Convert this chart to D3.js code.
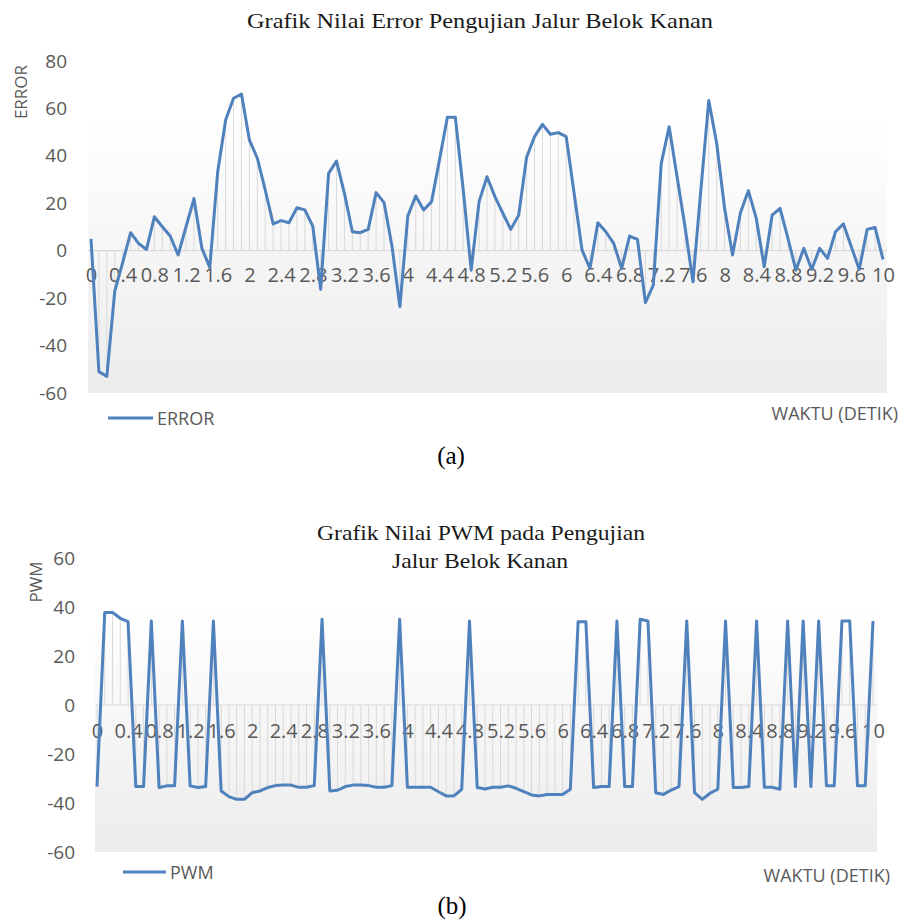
<!DOCTYPE html>
<html>
<head>
<meta charset="utf-8">
<script src="https://cdn.jsdelivr.net/npm/d3@7"></script>
<style>
  html, body { margin: 0; padding: 0; background: #fff; }
  svg { display: block; }
</style>
</head>
<body>
<svg id="chart" width="900" height="923"></svg>
<script>
// ---------- DATA ----------
const categories = [0,0.1,0.2,0.3,0.4,0.5,0.6,0.7,0.8,0.9,1,1.1,1.2,1.3,1.4,1.5,1.6,1.7,1.8,1.9,2,2.1,2.2,2.3,2.4,2.5,2.6,2.7,2.8,2.9,3,3.1,3.2,3.3,3.4,3.5,3.6,3.7,3.8,3.9,4,4.1,4.2,4.3,4.4,4.5,4.6,4.7,4.8,4.9,5,5.1,5.2,5.3,5.4,5.5,5.6,5.7,5.8,5.9,6,6.1,6.2,6.3,6.4,6.5,6.6,6.7,6.8,6.9,7,7.1,7.2,7.3,7.4,7.5,7.6,7.7,7.8,7.9,8,8.1,8.2,8.3,8.4,8.5,8.6,8.7,8.8,8.9,9,9.1,9.2,9.3,9.4,9.5,9.6,9.7,9.8,9.9,10];

const tickLabels = ["0","0.4","0.8","1.2","1.6","2","2.4","2.8","3.2","3.6","4","4.4","4.8","5.2","5.6","6","6.4","6.8","7.2","7.6","8","8.4","8.8","9.2","9.6","10"];

const errorValues = [5,-51,-53,-17,-5,7.6,3.1,0.5,14.3,10.1,6.2,-1.8,10.1,22,1,-7,33.3,55.1,64.3,66.1,46.7,39,25.6,11.3,12.7,11.8,18.1,17.2,10.4,-16.3,32.6,37.8,24.2,8,7.6,9,24.5,20.3,2,-23.6,14.6,23.1,17.2,20.7,38.3,56.3,56.3,25.6,-8.2,20.7,31.2,22.8,15.8,9,15,39.4,48.1,53.3,49.1,49.8,48.1,24.2,0.3,-7.5,11.8,8,3.1,-7.5,6.2,4.8,-21.9,-14.5,36.8,52.3,31.2,10.1,-13.1,25.6,63.3,45.3,17.9,-1.8,16,25.3,13.6,-6.8,15,17.9,5.2,-8.2,1,-7.9,1,-3.2,8,11.3,1.7,-7.9,9,9.8,-3.7];

const pwmValues = [-33.3,37.8,37.8,35.4,34,-33.3,-33.3,34.3,-33.7,-33,-33,34.3,-33,-33.7,-33.3,34.3,-35.1,-37.4,-38.5,-38.5,-35.8,-35.1,-33.7,-32.9,-32.7,-32.7,-33.6,-33.6,-32.9,35,-35.1,-34.8,-33.3,-32.7,-32.7,-32.9,-33.6,-33.6,-32.9,35,-33.6,-33.6,-33.6,-33.6,-35.4,-37.1,-37.1,-34.4,34.3,-33.7,-34.3,-33.6,-33.6,-33,-34,-35.4,-36.7,-37.1,-36.5,-36.5,-36.5,-34.4,34,34,-33.7,-33.3,-33.3,34.3,-33.3,-33.3,35,34.3,-35.8,-36.5,-34.7,-33.3,34.3,-35.8,-38.5,-36,-34.4,34.3,-33.7,-33.7,-33.3,34.3,-33.6,-33.6,-34.4,34.3,-33.3,34.3,-33.3,34.3,-33,-33,34.3,34.3,-33,-33,34.3];

const errorTicks = [80,60,40,20,0,-20,-40,-60];
const pwmTicks = [60,40,20,0,-20,-40,-60];

// ---------- STYLE ----------
const lineColor = "#4f81bd";
const dropColor = "#d9d9d9";
const textColor = "#595959";
const sansFont = "'Open Sans', 'Liberation Sans', Arial, sans-serif";
const serifFont = "'Liberation Serif', 'Times New Roman', serif";

const svg = d3.select("#chart");
const defs = svg.append("defs");
const grad = defs.append("linearGradient").attr("id", "plotGrad")
  .attr("x1", 0).attr("y1", 0).attr("x2", 0).attr("y2", 1);
grad.append("stop").attr("offset", "0%").attr("stop-color", "#ffffff");
grad.append("stop").attr("offset", "17%").attr("stop-color", "#ffffff");
grad.append("stop").attr("offset", "100%").attr("stop-color", "#ececec");

function drawChart(cfg) {
  const g = svg.append("g");
  const x = d3.scalePoint().domain(d3.range(categories.length)).range(cfg.xRange);
  const y = d3.scaleLinear().domain(cfg.yDomain).range(cfg.yRange);

  // plot background
  g.append("rect")
    .attr("x", cfg.plotX[0]).attr("y", cfg.yRange[1])
    .attr("width", cfg.plotX[1] - cfg.plotX[0])
    .attr("height", cfg.yRange[0] - cfg.yRange[1])
    .attr("fill", "url(#plotGrad)");

  // drop lines
  g.append("g").selectAll("line").data(cfg.values).join("line")
    .attr("x1", (d, i) => x(i)).attr("x2", (d, i) => x(i))
    .attr("y1", y(0)).attr("y2", d => y(d))
    .attr("stroke", dropColor).attr("stroke-width", 1);

  // zero line
  g.append("line")
    .attr("x1", cfg.plotX[0]).attr("x2", cfg.plotX[1])
    .attr("y1", y(0)).attr("y2", y(0))
    .attr("stroke", dropColor).attr("stroke-width", 1.2);

  // y axis
  const yAxis = g.append("g")
    .attr("transform", `translate(${cfg.yLabelX},0)`)
    .call(d3.axisLeft(y).tickValues(cfg.yTicks).tickSize(0).tickPadding(0).tickFormat(d => String(d)));
  yAxis.select(".domain").remove();
  yAxis.selectAll("text")
    .attr("fill", textColor).attr("font-family", sansFont).attr("font-size", 19);

  // x axis at zero
  const tickIdx = tickLabels.map(t => categories.indexOf(+t));
  const xAxis = g.append("g")
    .attr("transform", `translate(0,${y(0)})`)
    .call(d3.axisBottom(x).tickValues(tickIdx).tickSize(0).tickPadding(cfg.xPad)
      .tickFormat((d) => tickLabels[tickIdx.indexOf(d)]));
  xAxis.select(".domain").remove();
  xAxis.selectAll("text")
    .attr("fill", textColor).attr("font-family", sansFont).attr("font-size", 20);

  // series line
  g.append("path")
    .datum(cfg.values)
    .attr("fill", "none")
    .attr("stroke", lineColor)
    .attr("stroke-width", 3)
    .attr("stroke-linejoin", "round")
    .attr("d", d3.line().x((d, i) => x(i)).y(d => y(d)));

  // y axis title
  g.append("text")
    .attr("transform", `translate(${cfg.yTitle[0]},${cfg.yTitle[1]}) rotate(-90)`)
    .attr("text-anchor", "middle").attr("dominant-baseline", "central")
    .attr("fill", textColor).attr("font-family", sansFont).attr("font-size", 17)
    .text(cfg.yTitleText);

  // chart title
  cfg.title.forEach(t => {
    g.append("text")
      .attr("x", t.x).attr("y", t.y)
      .attr("text-anchor", "middle")
      .attr("fill", "#1a1a1a").attr("font-family", serifFont).attr("font-size", 21)
      .attr("textLength", t.w).attr("lengthAdjust", "spacingAndGlyphs")
      .text(t.text);
  });

  // legend
  g.append("line")
    .attr("x1", cfg.legend[0]).attr("x2", cfg.legend[1])
    .attr("y1", cfg.legend[2]).attr("y2", cfg.legend[2])
    .attr("stroke", lineColor).attr("stroke-width", 3);
  g.append("text")
    .attr("x", cfg.legend[1] + 4).attr("y", cfg.legend[2])
    .attr("dominant-baseline", "central")
    .attr("fill", textColor).attr("font-family", sansFont).attr("font-size", 18)
    .text(cfg.legendText);

  // x axis title
  g.append("text")
    .attr("x", cfg.xTitle[0]).attr("y", cfg.xTitle[1])
    .attr("text-anchor", "end").attr("dominant-baseline", "central")
    .attr("fill", textColor).attr("font-family", sansFont).attr("font-size", 18)
    .text("WAKTU (DETIK)");

  // caption
  g.append("text")
    .attr("x", cfg.caption[0]).attr("y", cfg.caption[1])
    .attr("text-anchor", "middle")
    .attr("fill", "#000").attr("font-family", serifFont).attr("font-size", 25)
    .text(cfg.captionText);
}

drawChart({
  values: errorValues,
  xRange: [91, 883], plotX: [88, 887],
  yDomain: [-60, 80], yRange: [393, 61],
  yTicks: errorTicks, yLabelX: 67, xPad: 17,
  yTitle: [20, 92], yTitleText: "ERROR",
  title: [{ text: "Grafik Nilai Error Pengujian Jalur Belok Kanan", x: 480, y: 28, w: 466 }],
  legend: [108, 153, 418], legendText: "ERROR",
  xTitle: [898, 413],
  caption: [451, 464], captionText: "(a)"
});

drawChart({
  values: pwmValues,
  xRange: [97, 873], plotX: [95, 877],
  yDomain: [-60, 60], yRange: [852, 558],
  yTicks: pwmTicks, yLabelX: 75, xPad: 19,
  yTitle: [35, 582], yTitleText: "PWM",
  title: [
    { text: "Grafik Nilai PWM pada Pengujian", x: 481, y: 540, w: 328 },
    { text: "Jalur Belok Kanan", x: 480, y: 568, w: 176 }
  ],
  legend: [123, 166, 872], legendText: "PWM",
  xTitle: [890, 875],
  caption: [452, 914], captionText: "(b)"
});
</script>
</body>
</html>
